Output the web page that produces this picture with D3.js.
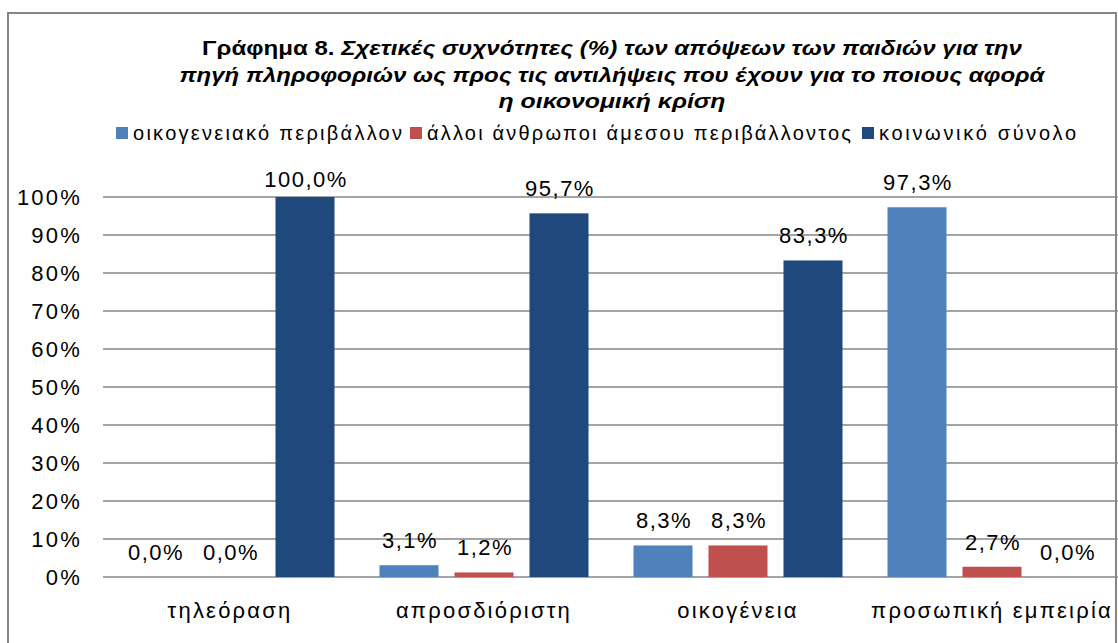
<!DOCTYPE html>
<html>
<head>
<meta charset="utf-8">
<script src="https://cdn.jsdelivr.net/npm/d3@7"></script>
<style>
  body { margin: 0; background: #fff; }
  text { font-family: "Liberation Sans", Arial, sans-serif; fill: #000; }
</style>
</head>
<body>
<div id="chart"></div>
<script>
// data
var categories = ["τηλεόραση", "απροσδιόριστη", "οικογένεια", "προσωπική εμπειρία"];
var seriesNames = ["οικογενειακό περιβάλλον", "άλλοι άνθρωποι άμεσου περιβάλλοντος", "κοινωνικό σύνολο"];
var family = [0.0, 3.1, 8.3, 97.3];
var others = [0.0, 1.2, 8.3, 2.7];
var society = [100.0, 95.7, 83.3, 0.0];
var yTicks = [0, 10, 20, 30, 40, 50, 60, 70, 80, 90, 100];
var colors = ["#4F81BD", "#C0504D", "#1F497D"];

var titleLines = [
  [{t: "Γράφημα 8. ", it: false}, {t: "Σχετικές συχνότητες (%) των απόψεων των παιδιών για την", it: true}],
  [{t: "πηγή πληροφοριών ως προς τις αντιλήψεις που έχουν για το ποιους αφορά", it: true}],
  [{t: "η οικονομική κρίση", it: true}]
];

var W = 1118, H = 643;
var svg = d3.select("#chart").append("svg")
    .attr("width", W)
    .attr("height", H);

// chart border
svg.append("rect")
    .attr("x", 8).attr("y", 13)
    .attr("width", 1108).attr("height", 640)
    .attr("fill", "none")
    .attr("stroke", "#868686")
    .attr("stroke-width", 2);

// title
var titleBase = [55, 82, 108];
var titleWidth = [820, 865, 227];
titleLines.forEach(function(parts, i) {
  var t = svg.append("text")
      .attr("x", 612)
      .attr("y", titleBase[i])
      .attr("text-anchor", "middle")
      .attr("font-size", 21)
      .attr("font-weight", "bold")
      .attr("textLength", titleWidth[i])
      .attr("lengthAdjust", "spacingAndGlyphs");
  parts.forEach(function(p) {
    t.append("tspan")
        .attr("font-style", p.it ? "italic" : "normal")
        .text(p.t);
  });
});

// legend
var legendX = [116, 410, 862];
var legendW = [269, 424, 197];
var legend = svg.selectAll(".legend")
    .data(seriesNames)
  .enter().append("g")
    .attr("class", "legend")
    .attr("transform", function(d, i) { return "translate(" + legendX[i] + ",127)"; });

legend.append("rect")
    .attr("width", 12).attr("height", 12)
    .attr("fill", function(d, i) { return colors[i]; });

legend.append("text")
    .attr("x", 17).attr("y", 13)
    .attr("font-size", 20)
    .attr("textLength", function(d, i) { return legendW[i]; })
    .attr("lengthAdjust", "spacing")
    .text(function(d) { return d; });

// scales
var x0 = d3.scaleBand().domain(categories).range([103, 1119]);
var x1 = d3.scaleBand().domain(d3.range(seriesNames.length))
    .range([0, x0.bandwidth()])
    .paddingInner(0.213)
    .paddingOuter(0.3);
var y = d3.scaleLinear().domain([0, 100]).range([577, 197]);

// gridlines
svg.append("g")
    .selectAll("line")
    .data(yTicks)
  .enter().append("line")
    .attr("x1", 103).attr("x2", 1119)
    .attr("y1", function(d) { return y(d); })
    .attr("y2", function(d) { return y(d); })
    .attr("stroke", "#868686")
    .attr("stroke-width", 1.5);

// y axis labels
var yAxis = svg.append("g")
    .attr("transform", "translate(82,0)")
    .call(d3.axisLeft(y).tickValues(yTicks).tickSize(0).tickPadding(0)
      .tickFormat(function(d) { return d + "%"; }));
yAxis.select(".domain").remove();
yAxis.selectAll("text")
    .attr("font-size", 22)
    .attr("letter-spacing", 2.2)
    .style("font-family", "'Liberation Sans', Arial, sans-serif")
    .attr("fill", "#000");

// x axis labels
var xAxis = svg.append("g")
    .attr("transform", "translate(0,577)")
    .call(d3.axisBottom(x0).tickSize(0).tickPadding(0));
xAxis.select(".domain").remove();
xAxis.selectAll("text")
    .attr("y", 41)
    .attr("dy", 0)
    .attr("font-size", 22)
    .attr("letter-spacing", 2.2)
    .style("font-family", "'Liberation Sans', Arial, sans-serif")
    .attr("fill", "#000");

// bars
var series = [family, others, society];
var groups = svg.selectAll(".group")
    .data(categories)
  .enter().append("g")
    .attr("class", "group")
    .attr("transform", function(d) { return "translate(" + x0(d) + ",0)"; });

groups.selectAll("rect")
    .data(function(d, ci) { return series.map(function(s, si) { return {si: si, v: s[ci]}; }); })
  .enter().append("rect")
    .attr("x", function(d) { return x1(d.si); })
    .attr("width", x1.bandwidth())
    .attr("y", function(d) { return y(d.v); })
    .attr("height", function(d) { return y(0) - y(d.v); })
    .attr("fill", function(d) { return colors[d.si]; });

// value labels
groups.selectAll(".val")
    .data(function(d, ci) { return series.map(function(s, si) { return {si: si, v: s[ci]}; }); })
  .enter().append("text")
    .attr("class", "val")
    .attr("x", function(d) { return x1(d.si) + x1.bandwidth() / 2 + 1; })
    .attr("y", function(d) { return Math.max(y(d.v) - 17, y(100) - 10); })
    .attr("text-anchor", "middle")
    .attr("font-size", 22)
    .attr("letter-spacing", 1.5)
    .text(function(d) { return d.v.toFixed(1).replace(".", ",") + "%"; });
</script>
</body>
</html>
